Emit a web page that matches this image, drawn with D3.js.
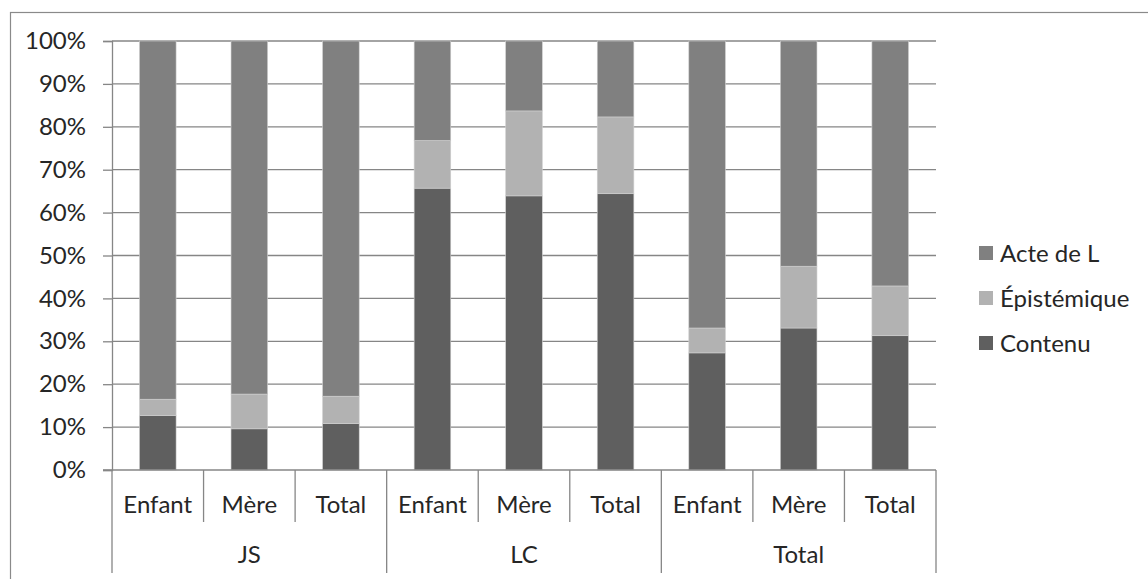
<!DOCTYPE html>
<html>
<head>
<meta charset="utf-8">
<script src="https://cdn.jsdelivr.net/npm/d3@7"></script>
<style>
  body { margin: 0; background: #fff; }
  text { font-family: Lato, "Liberation Sans", sans-serif; fill: #262626; }
</style>
</head>
<body>
<div id="canvas"></div>
<script>
"use strict"

/* ---------- data (percent) ---------- */
let groups = ["JS", "LC", "Total"];
let persons = ["Enfant", "Mère", "Total"];
let seriesNames = ["Contenu", "Épistémique", "Acte de L"];
let contenu     = [12.7, 9.6, 10.8, 65.7, 63.9, 64.4, 27.3, 33.1, 31.3];
let epistemique = [3.8, 8.1, 6.4, 11.1, 19.8, 17.9, 5.8, 14.4, 11.6];
let acteDeL     = [83.5, 82.3, 82.8, 23.2, 16.3, 17.7, 66.9, 52.5, 57.1];
let yTicks = [0, 10, 20, 30, 40, 50, 60, 70, 80, 90, 100];
let colors = ["#5f5f5f", "#b2b2b2", "#808080"];

/* rows for d3.stack */
let rows = [];
groups.forEach(function (g, gi) {
  persons.forEach(function (p, pi) {
    let i = gi * persons.length + pi;
    rows.push({ key: g + "|" + p, group: g, person: p,
      "Contenu": contenu[i], "Épistémique": epistemique[i], "Acte de L": acteDeL[i] });
  });
});

let width = 1148, height = 579;
let plotLeft = 112, plotRight = 936, plotTop = 41, plotBottom = 470;

let drawing = d3.select("#canvas")
  .append("svg")
  .attr("width", width)
  .attr("height", height);

/* outer frame */
drawing.append("rect")
  .attr("x", 10.5).attr("y", 12.5)
  .attr("width", 1160).attr("height", 600)
  .attr("fill", "none").attr("stroke", "#8a8a8a").attr("stroke-width", 1.2);

let x = d3.scaleBand()
  .domain(rows.map(d => d.key))
  .range([plotLeft, plotRight])
  .paddingInner(0.6)
  .paddingOuter(0.3);

let y = d3.scaleLinear().domain([0, 100]).range([plotBottom, plotTop]);

/* gridlines + y axis */
let yAxis = d3.axisLeft(y)
  .tickValues(yTicks)
  .tickFormat(d => d + "%")
  .tickSize(9)
  .tickPadding(17);

let yg = drawing.append("g")
  .attr("transform", "translate(" + plotLeft + ",0)")
  .call(yAxis);
yg.select(".domain").attr("stroke", "#868686").attr("stroke-width", 1.3);
yg.selectAll(".tick line").attr("stroke", "#868686").attr("stroke-width", 1.3);
yg.selectAll(".tick text")
  .attr("font-size", 24)
  .attr("font-family", "Lato, 'Liberation Sans', sans-serif")
  .attr("fill", "#262626");

drawing.append("g")
  .selectAll("line")
  .data(yTicks.filter(t => t > 0))
  .join("line")
  .attr("x1", plotLeft).attr("x2", plotRight)
  .attr("y1", d => y(d)).attr("y2", d => y(d))
  .attr("stroke", "#868686").attr("stroke-width", 1.3);

/* stacked bars */
let stack = d3.stack().keys(seriesNames);
let stacked = stack(rows);

drawing.append("g")
  .selectAll("g")
  .data(stacked)
  .join("g")
  .attr("fill", (d, i) => colors[i])
  .selectAll("rect")
  .data(d => d)
  .join("rect")
  .attr("x", d => x(d.data.key))
  .attr("width", x.bandwidth())
  .attr("y", d => y(d[1]))
  .attr("height", d => y(d[0]) - y(d[1]))
  .attr("stroke", "#d0d0d0")
  .attr("stroke-width", 0.6);

/* x axis baseline */
drawing.append("line")
  .attr("x1", plotLeft - 9).attr("x2", plotRight)
  .attr("y1", plotBottom).attr("y2", plotBottom)
  .attr("stroke", "#868686").attr("stroke-width", 1.3);

/* category separators */
let step = x.step();
let edges = d3.range(rows.length + 1);
drawing.append("g")
  .selectAll("line")
  .data(edges)
  .join("line")
  .attr("x1", i => plotLeft + i * step).attr("x2", i => plotLeft + i * step)
  .attr("y1", plotBottom)
  .attr("y2", i => (i % persons.length === 0) ? 573 : 522)
  .attr("stroke", "#868686").attr("stroke-width", 1.3);

/* person labels */
drawing.append("g")
  .selectAll("text")
  .data(rows)
  .join("text")
  .attr("x", d => x(d.key) + x.bandwidth() / 2)
  .attr("y", 513)
  .attr("text-anchor", "middle")
  .attr("font-size", 24)
  .text(d => d.person);

/* group labels */
drawing.append("g")
  .selectAll("text")
  .data(groups)
  .join("text")
  .attr("x", (d, i) => plotLeft + (i * persons.length + persons.length / 2) * step)
  .attr("y", 563)
  .attr("text-anchor", "middle")
  .attr("font-size", 24)
  .text(d => d);

/* legend (top = Acte de L) */
let legendItems = seriesNames.slice().reverse();
let legendColors = colors.slice().reverse();
let legend = drawing.append("g")
  .selectAll("g")
  .data(legendItems)
  .join("g")
  .attr("transform", (d, i) => "translate(979," + (253 + i * 45) + ")");

legend.append("rect")
  .attr("x", 0).attr("y", -7)
  .attr("width", 14).attr("height", 14)
  .attr("fill", (d, i) => legendColors[i]);

legend.append("text")
  .attr("x", 21).attr("y", 8.5)
  .attr("font-size", 24)
  .text(d => d);
</script>
</body>
</html>
